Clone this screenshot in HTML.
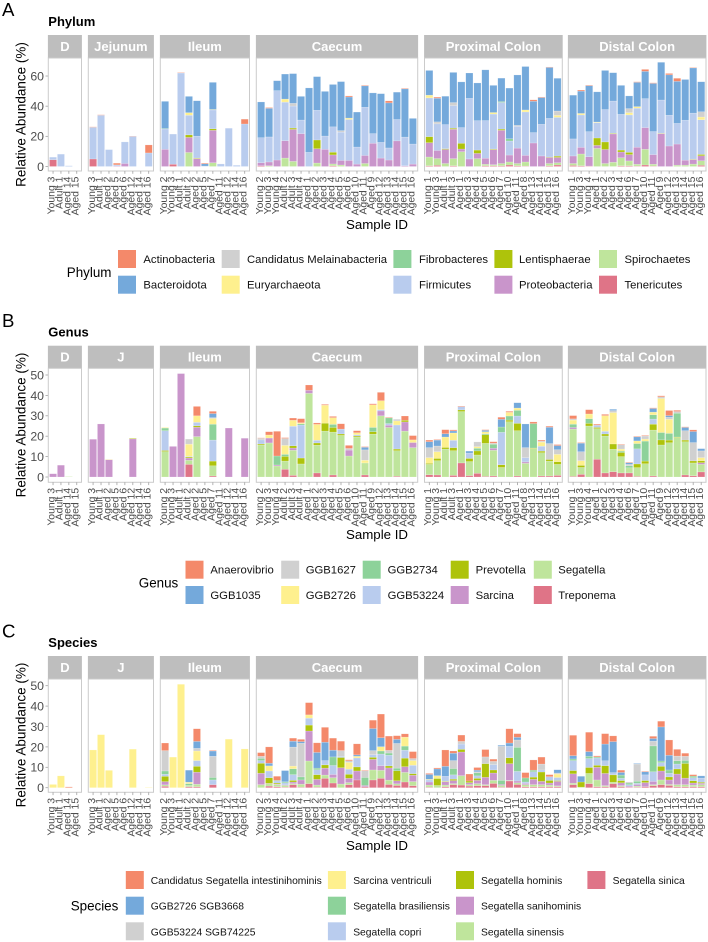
<!DOCTYPE html>
<html lang="en">
<head>
<meta charset="utf-8">
<title>Relative abundance by phylum, genus and species</title>
<style>
html,body{margin:0;padding:0;background:#fff;}
svg{display:block;font-family:"Liberation Sans",sans-serif;}
</style>
</head>
<body>
<svg id="chart" xmlns="http://www.w3.org/2000/svg" width="708" height="942" viewBox="0 0 708 942"></svg>
<script>
// ---------- categories ----------
const facetNamesPhylum = ["D","Jejunum","Ileum","Caecum","Proximal Colon","Distal Colon"];
const facetNamesOther = ["D","J","Ileum","Caecum","Proximal Colon","Distal Colon"];
const samplesD = ["Young 3","Adult 1","Aged 14","Aged 15"];
const samplesJ = ["Young 3","Adult 1","Aged 2","Aged 5","Aged 6","Aged 12","Aged 14","Aged 16"];
const samplesI = ["Young 2","Young 3","Adult 1","Adult 2","Aged 2","Aged 5","Aged 7","Aged 11","Aged 12","Aged 14","Aged 16"];
const samplesC = ["Young 2","Young 3","Young 4","Adult 2","Adult 3","Adult 4","Aged 1","Aged 2","Aged 3","Aged 4","Aged 5","Aged 6","Aged 10","Aged 11","Aged 9","Aged 12","Aged 13","Aged 14","Aged 15","Aged 16"];
const samplesP = ["Young 1","Young 3","Adult 1","Adult 3","Aged 1","Aged 3","Aged 4","Aged 5","Aged 6","Aged 7","Aged 10","Aged 11","Aged 8","Aged 13","Aged 14","Aged 15","Aged 16"];
const samplesDi = ["Young 1","Young 3","Young 4","Aged 1","Aged 2","Aged 3","Aged 4","Aged 6","Aged 7","Aged 10","Aged 11","Aged 9","Aged 12","Aged 13","Aged 14","Aged 15","Aged 16"];

// stack order is bottom to top; the legend reads the reverse
const phylumTaxa = ["Tenericutes","Spirochaetes","Proteobacteria","Lentisphaerae","Firmicutes","Fibrobacteres","Euryarchaeota","Candidatus Melainabacteria","Bacteroidota","Actinobacteria"];
const genusTaxa = ["Treponema","Segatella","Sarcina","Prevotella","GGB53224","GGB2734","GGB2726","GGB1627","GGB1035","Anaerovibrio"];
const speciesTaxa = ["Segatella sinica","Segatella sinensis","Segatella sanihominis","Segatella hominis","Segatella copri","Segatella brasiliensis","Sarcina ventriculi","GGB53224 SGB74225","GGB2726 SGB3668","Candidatus Segatella intestinihominis"];
const stackColors = ["#DF7487","#BFE59C","#C995CB","#AEC30B","#B9CCEE","#8DD29A","#FEF08E","#D0D0D0","#74A9DB","#F4896A"];

const ticksPhylum = [0,20,40,60];
const ticksOther = [0,10,20,30,40,50];

// ---------- Phylum values (one row per sample, taxa in stack order) ----------
const phylumD = [
[4.5,0,0,0,1.7,0,0,0,0,0],[0,0,0,0,8.2,0,0,0,0,0],[0,0,0,0,0.5,0,0,0,0,0],[0,0,0,0,0,0,0,0,0,0]];
const phylumJ = [
[5,0,0,0,21,0,0,0,0,0.3],[0,0,0,0,34,0,0,0,0,0.3],[0,0,0,0,11.2,0,0,0,0,0],[0,0,0.4,0,0.7,0,0,0,0,1.1],
[0,0,2,0,14.3,0,0,0,0,0],[0,0,0,0,20,0,0,0,0,0.2],[0,0,0,0,0,0,0,0,0,0],[0,0,0,0,9,0,0,0,0,5.3]];
const phylumI = [
[0,0,11.4,0,13.5,0.3,0,0,18,0],[1.5,0,0,0,20,0,0,0,0,0],[0,0,0,0,62,0,0,0,0,0.3],
[0,9.3,10,1.7,13,0,1.7,0,10.8,0],[0,0,5.2,0.4,14.5,0,0,0,23.5,0],[0,0,0,0,0.3,0,0,0,1.5,0.5],
[0,2.5,21.5,1,12.5,0,0.3,0,18,0],[0,0,0,0,1.7,0,0,0,0,0],[0,0,0,0,25.4,0,0,0,0,0],[0,0,0,0,0.8,0,0,0,0,0],[0,0,0,0,28.2,0,0,0,0,3.2]];
const phylumC = [
[0.5,0,2,0,16.6,0,0,0,23.7,0],[0,0.5,2.5,0,16.6,0,0,0,19,0.5],[0,0,4.3,0,46,0,0,0,6.6,0],
[0,5.6,11.5,0,25.6,0,2,0,16.6,0],[0,3.4,21.2,0.9,14.6,0,0,1.8,19.7,0],[0,0,21.8,0,9,0,0,0,15.7,0],
[0,0,0,0,9.4,0,0,0,42.7,0],[0,2.3,9.5,5.8,19.7,0,0,0,22.3,0],[0,0,11.4,0,8.8,0,0,0,29.6,0],
[0.5,1.2,6,1.8,16.8,0,0,0,28.1,0],[0,1,3,0,18.8,0,0,1,32.5,0],[0,0,4,0,27.2,0,0.9,0,14,0.7],
[0,0,1.6,0,11.3,0,0,0,23.2,0],[0,2,5.3,0,32,0,0,0,14.2,0.4],[0,0,15.4,0,6.4,0,0,0,27,0],
[0,0,5.6,0,10.4,0,0,0,32.3,0],[0,0,4.3,0,8,0,0,0,29.9,1.3],[0,0,17,0,14.2,0,0,0,18.1,0],
[0,0,0.5,0,19,0,0,0,32,0.4],[0,0,1.6,0,13.3,0,0,0,17,0]];
const phylumP = [
[0.5,5.8,9.5,4,25.7,0,1.8,0,16.4,0],[0.8,4.5,5.3,0,17.7,0,0,1.3,15.7,0.7],[0,2,9.3,0.5,16,0,0,0,18.8,0],
[0.5,4.7,19.5,0.7,15,0,0,2,20,0],[0,9.8,1.8,3.8,10.4,0,0,0,30.3,0],[0,0,5,0,40.2,0,0,0,16.8,0],
[0,5.2,3.5,2.2,19.5,0,0,0,25,0],[0.5,1,4,0,25,0,0,0,33.6,0],[0.5,0.7,10,0.4,23.2,0,1,0,18,0],
[0.5,1.5,22,0.8,17.7,0.6,0,0,15.5,0],[1,2,4.6,0,9.3,1.5,0,0,33.6,0],[0.5,1.5,10.2,0,14.4,0,0,0.7,33.4,0],
[0.3,2.7,4.4,0,28.8,0,1.3,0,28.8,0],[0,0,15.6,0,6.9,0,0,0,20.8,0.9],[0,0,7,0,21,0,0,0,17.7,0.4],
[0.5,1.5,4,0.3,25.6,0,0,0,33.8,0.3],[1,1.5,3.5,0.9,25.7,0,1.3,2.9,21.7,0]];
const phylumDi = [
[0.7,1.3,5,0,11.3,0,0,0,29,0],[0.5,7.8,4.4,0,21.5,0,1,0,14.8,0.7],[0.3,0,6.2,0,16.6,0,0,0,30.5,0.4],
[0,12,2,4.9,10.2,0,0.4,0,20,0],[0,2,9.3,5,21.5,0,0,0,25.9,0],[0,2.8,18.8,0.4,21.4,0,0,0,18.8,0],
[0.5,5.3,3.8,1.3,23.7,0,0,0,19.2,0],[0.5,3.2,4.2,1.5,24.8,0,1.5,2.7,8.4,0],[0.3,1.2,11.3,0,25.9,0,1,0,16.1,0.4],
[1,10.4,14.4,0,19.2,0,0,0,18.1,1.3],[0.3,1.2,6.4,0,15.3,0,0,0,31.9,0.4],[0,0,21.8,0.3,22,0,0,0,25,0],
[0,0,13.6,0,20.4,0,0,0,26.8,0.9],[0,0.9,14,0,13.7,0,0,0,27.9,2],[0,0.9,3.3,0,26.5,0,0,0,27,0],
[0,1.6,3,0.3,30.5,0,0,0,30,0.3],[0.8,3,3.3,0.9,23,0,1.8,3.5,19.9,0]];

// ---------- Genus values ----------
const genusD = [
[0,0,1.6,0,0,0,0,0,0,0],[0,0,5.8,0,0,0,0,0,0,0],[0,0.2,0,0,0,0,0,0,0,0],[0,0,0,0,0,0,0,0,0,0]];
const genusJ = [
[0,0,18.5,0,0,0,0,0,0,0],[0,0,26,0,0,0,0,0,0,0],[0,0,8.5,0,0,0,0.2,0,0,0],[0,0,0,0,0,0,0,0,0,0],
[0,0,0,0,0,0,0,0,0,0],[0,0,18.7,0.3,0,0,0,0,0,0],[0,0,0,0,0,0,0,0,0,0],[0,0,0,0,0,0,0,0,0,0]];
const genusI = [
[0,12.5,0,0.5,9.7,1.3,0.3,0,0,0],[0,0,15,0,0,0,0,0,0,0],[0,0,50.7,0,0,0,0,0,0,0],
[6.2,2,1.1,0.5,0.3,0,6,2.5,0,0],[0,19.8,4.6,0.7,1.7,0,3.2,0,0,4.6],[0,0,0,0,0,0,0,0,0,0],
[0.5,5,0,2.3,10.3,7.8,2.8,0.4,2,1.1],[0,0,0,0,0,0,0,0,0,0],[0,0,24,0,0,0,0,0,0,0],[0,0,0,0,0,0,0,0,0,0],[0,0,19,0,0,0,0,0,0,0]];
const genusC = [
[0,15.7,0,0.5,2,0,0,0.8,0,0.2],[0,16.7,2.4,0,0,0,1.5,0,0,1.6],[0,5.4,0.5,0,0,4.4,0,0,0,12.1],
[3.8,4,0,2.3,0,1,4.4,3.4,0,0.4],[0.8,12.3,1.1,1.1,9.6,0,2.9,0,0,1.1],[0,6.4,0,2.9,16.2,0.6,0.5,0,0,2],
[0,41,1.5,0,0,0,0,0,0,2.6],[2,13.6,0,1.1,1.3,0,7.8,0,0,0.7],[0,22.5,0,3.9,0,0,8.8,0,0,0.4],
[1,21,0,2.3,0,1.5,3.3,0,0,0.6],[0,20.4,0,0.7,2.4,0,0,0,0,2.6],[0,10.3,2.9,0,0,0,0,0.8,0,1.5],
[0,19.6,0,0.5,0.6,0,1,0,0,1],[1,5.9,0,0,0,0,1.3,5.1,1.3,0.3],[0,21,0,1.2,0,2.1,11.1,0,0,0.5],
[0,30,2.4,0,0.6,0,4.4,0,0,4.1],[0,24.3,1.1,0,0.8,2.8,0,0,0,0.3],[0.4,12.5,0,0.8,11.8,0,2,0.8,0,0],
[0,22.5,4.5,0.8,0,0,0,0,0,2.1],[0,14.4,2.5,0,0,0,1.3,0,0,2.1]];
const genusP = [
[1.1,5.1,0,0.5,0,0,2.8,4.9,2.9,0.8],[1,7,0,1.1,0,0,3.3,2.8,2.9,0.3],[0,13.7,0,0.8,0,0,5.1,0,1.6,2],
[0.8,12.1,0,1.5,3.6,0,3.6,0,1,0.5],[6.9,25.2,0,0.8,1.6,0,0,0,0,0.3],[0.7,6.9,0,1.5,2.6,0,0,0,1,0],
[1.8,9,0,2,0,1.3,0.8,2.3,0,0],[0.3,16.2,0,4.2,0,0.5,1,0,0.7,0.3],[0.5,12.6,1,0,0,2,0,0.5,0,0.7],
[0,4.7,0,1.3,15.9,2.6,0,0,3.8,1],[0,27.1,0,0.8,0,2,1.8,0,0,0.5],[0.5,22.2,0,3.6,3.6,2.8,1.1,0,2.6,0],
[0,6.7,0.7,0,2.1,0,0,4.9,11.6,0],[0,13.9,0,0.3,0,12,0,0,0,0.8],[0.5,11.4,0,0.8,2.4,0,2,0.5,0,0.5],
[0.5,7.3,0,0.8,0,0,0,7.8,8,0.5],[0.8,5.4,0,1.3,0,0,3.6,2.3,2,0.5]];
const genusDi = [
[0.3,23.2,0.8,0,0,1.6,2,0.6,0,1.6],[1.3,3.4,0,1,0,0,2.3,4.4,4.2,0.3],[0,25,0,1.3,0,2.3,2.3,0,0,2.1],
[8.7,15,0,0.6,1.1,0,0,0,0,0.5],[2,18.1,0,1,1.3,0,7.7,0,0,0.6],[2.6,11,0,2.6,0,0,15.4,1,0.6,0],
[2,8,0,2,0,0.7,1,2.1,0,0.3],[2,2.5,0,0,0,1,0,0.7,0.8,0.3],[0.3,4.3,0,1.8,7.4,2.6,1.3,0,2,0.3],
[0,6.5,0,1.3,0,9.8,1,1.5,0,0.3],[0.5,22.5,0,2.9,2.5,2.1,1.3,0,1.8,0.3],[0,15.7,0,2.5,0,3.6,16.7,0.8,0,0.5],
[0,16.8,0,1.3,0,3.3,6.9,1,0.8,2.5],[0,19.3,0,0.3,0,11.7,0,0.8,0,0.6],[1,16.3,0,0.8,0,0,0,4.6,1.6,0.3],
[0.6,6.3,0,1,0,0,0,9,5.4,0.8],[2.5,3.7,0.8,1,0,0,1.5,3.3,1.1,0]];

// ---------- Species values ----------
const speciesD = [
[0,0,0,0,0,0,1.6,0,0,0],[0,0,0,0,0,0,5.8,0,0,0],[0,0,0,0,0,0,0,0,0,0.4],[0,0,0,0,0,0,0,0,0,0]];
const speciesJ = [
[0,0,0,0,0,0,18.5,0,0,0],[0,0,0,0,0,0,26,0,0,0],[0,0,0,0,0,0,8.5,0,0,0],[0,0,0,0,0,0,0,0,0,0],
[0,0,0,0,0,0,0,0,0,0],[0,0,0,0,0,0,18.9,0,0,0],[0,0,0,0,0,0,0,0,0,0],[0,0,0,0,0,0,0.2,0,0,0]];
const speciesI = [
[0.7,0.7,1.6,2.6,1,1.6,0,10,0,3.7],[0,0,0,0,0,0,15,0,0,0],[0,0,0,0,0,0,50.7,0,0,0],
[0.5,0.7,0,0,0,0.8,0.7,0,5.9,0],[0.5,1.2,5.9,2.9,2.8,0,4.7,1.3,3.4,6.2],[0,0,0,0,0,0,0,0,0,0],
[1.5,0,0,0,2.3,1.2,0,10.4,2.6,0.3],[0,0,0,0,0,0,0,0,0,0],[0,0,0,0,0,0,23.8,0,0,0],[0,0,0,0,0,0,0,0,0,0],[0,0,0,0,0,0,19,0,0,0]];
const speciesC = [
[0,1.5,5.6,4.9,1.3,1.1,0,1,0,1.8],[0.8,1.1,0.2,2.8,3.3,0,2.5,0,1.3,8],[0.5,1,0.3,0.5,1,0.3,0,0,0,2],
[0.3,0.8,0.3,0,1,0.5,0,0,5.5,0],[1.5,0.5,0.8,0.8,2.8,2.9,1.3,9.3,2.9,1.5],[0.3,1.4,2.1,0,0,1.5,0,16.5,0.8,1.1],
[2,11.1,14.7,2.9,3.4,0,1.6,0,0,6],[0.3,1,2.8,2.3,2.4,0.8,0,0,7.7,4.7],[4.6,1.6,3.4,1.6,2.1,0,0,0,9,7.3],
[2.3,2.6,1.6,0,4.4,4.2,0,0,3.3,5.9],[0,1.8,8,5,0.6,0,0,2.8,0,4.6],[1.5,1,2.1,2,2.5,0,3.3,0.8,0,0.5],
[3.8,0,4.4,2,4.4,0,0.8,0,0.7,5.4],[0.5,0,0.6,0,0,3.9,0,3.3,0,0.3],[3.8,4.9,5.2,1,1.3,0,0,2,10.8,4.1],
[4.6,3.9,2.3,0,5.7,1.5,2.1,0,4.4,11.6],[1.6,2.1,6,1,5.2,1.1,0,1.3,0,7],[1.1,0.8,1.5,4.9,0,1.3,0,12.1,2,1.8],
[2.8,4.7,2.8,4.2,3.9,2,4.4,0,0,1.6],[1,2,3.1,0.8,4.1,0,2.3,1,0,3.4]];
const speciesP = [
[0.3,1,1.5,0,1,0,0.3,0,2.4,0.5],[0,1.1,0,3.4,0,0,1.4,0,3.3,0.5],[0.5,0.8,1.6,0.3,2.4,0,0,0,4.9,8],
[1.5,0.5,1.5,0.7,2.1,3.1,0,3.9,3.6,1.1],[1.3,4.6,11.6,1.3,2.6,0,0,1.3,0,3.1],[0.8,0.7,1,0.8,0,0,0,0,0,3.4],
[1,1,1.6,1,1.2,1.5,0,0.5,0.8,1.3],[1,0.5,3.6,6.7,0,0,0,3.3,0,3.6],[2.1,1.5,3.6,1.5,2.6,0,0,1.6,0,1.1],
[0.3,0.8,0.5,0,0,2,0,16.7,0.5,0],[3.3,0.3,8.2,2.9,5.6,0,0,0,1.6,7],[1.6,0.8,0.9,0,4.7,11.8,0,3.6,1.3,1.8],
[0.5,1,0.6,0,0.7,2,0,0,0,2.6],[0.5,1,2.6,1.1,2.6,0.8,0,0,0,5],[0.5,1,1.6,4.6,1,0,0,2.9,0,3.4],
[0.5,0.8,1,1.3,1.8,0,0,0,0,1],[0.5,0.4,2.2,0.4,1.5,0,1.7,0.5,1.6,0]];
const speciesDi = [
[1.5,0.7,4.6,1.6,4.9,0.8,0,0,1.6,10],[0,0.3,0,2.5,0,0,0,0,2.8,0],[2,5,0,2.9,4.4,1.1,0,0,2.3,9.5],
[0.5,3.3,6.2,1,3.6,0.5,0,0,0,0.5],[0.5,0.5,6,3.8,2.4,0,0,0,8.2,5.1],[2,0.7,0,3.6,1.1,0,0,0,15.2,2.8],
[0.5,0.5,1.4,1.1,1.1,1.6,0,0,1.3,1.1],[0.3,0,0.5,0,0.7,0.8,0,0.5,0,0],[0.3,0.5,0.8,0,0.6,1,0,8.4,0.3,0],
[0.5,0,2,1,2.8,0,0,0,1.5,0.3],[1,0.5,1.6,0,4.7,12.7,0,2.3,1.3,1.1],[1.5,2.3,4.4,2.3,1.8,0.8,0,0,16.7,2.8],
[1.1,0.5,2.2,1.5,1.8,1.6,0,0,7.2,7.5],[0.5,1,5.2,2.5,2.4,1.6,0,2.3,0,3.3],[0.5,1,3.2,7.2,0,1.5,0,2,0,1.5],
[0.5,0.8,1,1.1,1.5,0.8,0,0,0,0.7],[0.5,1,0.7,0.5,2,0,0,0,1.1,0]];

// ---------- layout (not data) ----------
const facetEdges = [[48.3,81.5],[88.3,153.5],[160.3,249.5],[256.3,417.7],[424.5,562.3],[568.3,706]];
const sampleSets = [samplesD,samplesJ,samplesI,samplesC,samplesP,samplesDi];
const GREY_TEXT = "#4D4D4D", BORDER = "#CBCBCB", STRIP = "#BEBEBE";
const svg = document.getElementById("chart");

function make(tag, attrs, text, parent) {
  const node = document.createElementNS("http://www.w3.org/2000/svg", tag);
  for (const key in attrs) node.setAttribute(key, attrs[key]);
  if (text !== undefined) node.textContent = text;
  (parent || svg).appendChild(node);
  return node;
}

function drawPanel(opt) {
  const panelGroup = make("g", {});
  
  

  const letter = make("text", {x: 2, y: opt.letterY, "font-size": 18.6, fill: "#000"}, opt.letter, panelGroup);
  
  

  const title = make("text", {x: 48.3, y: opt.titleY, "font-size": 13, "font-weight": "bold", fill: "#000"}, opt.title, panelGroup);
  
  

  const yScale = v => opt.zeroY - v * opt.pxPerUnit;

  const yTitle = make("text", {transform: "translate(25.3," + opt.yTitleY + ") rotate(-90)", "text-anchor": "middle", "font-size": 13.5, fill: "#000"}, "Relative Abundance (%)", panelGroup);
  
  

  opt.ticks.forEach(t => {
    const tickMark = make("line", {x1: 45.5, x2: 48.3, y1: yScale(t), y2: yScale(t), stroke: "#A0A0A0", "stroke-width": 0.8}, undefined, panelGroup);
    
    
    const tickLabel = make("text", {x: 44, y: yScale(t) + 4.4, "text-anchor": "end", "font-size": 12.3, fill: GREY_TEXT}, String(t), panelGroup);
    
    
  });

  facetEdges.forEach((edge, f) => {
    const left = edge[0], right = edge[1], samples = sampleSets[f], rows = opt.rows[f];
    const unit = (right - left) / (samples.length + 0.2);
    const xCenter = i => left + (0.6 + i) * unit;

    const strip = make("rect", {x: left - 0.4, y: opt.stripTop, width: right - left + 0.8, height: opt.stripBottom - opt.stripTop, fill: STRIP}, undefined, panelGroup);
    
    

    const stripText = make("text", {x: (left + right) / 2, y: (opt.stripTop + opt.stripBottom) / 2 + 4.6, "text-anchor": "middle", "font-size": 13, "font-weight": "bold", fill: "#fff"}, opt.facetNames[f], panelGroup);
    
    

    const frame = make("rect", {x: left, y: opt.stripBottom, width: right - left, height: opt.panelBottom - opt.stripBottom, fill: "#fff", stroke: BORDER, "stroke-width": 1}, undefined, panelGroup);
    
    

    samples.forEach((sample, i) => {
      const cx = xCenter(i);
      let cumulative = 0;
      opt.taxa.forEach((taxon, k) => {
        const value = rows[i][k];
        if (value > 0) {
          const top = yScale(cumulative + value);
          const bottom = yScale(cumulative);
          const segment = make("rect", {x: cx - 0.45 * unit, y: top, width: 0.9 * unit, height: bottom - top, fill: stackColors[k], stroke: "rgba(255,255,255,.35)", "stroke-width": 0.5}, undefined, panelGroup);
          
          
          const tip = make("title", {}, sample + " – " + taxon + ": " + value + "%", segment);
          
          
        }
        cumulative += value;
      });

      const xTick = make("line", {x1: cx, x2: cx, y1: opt.panelBottom, y2: opt.panelBottom + 2.8, stroke: "#A0A0A0", "stroke-width": 0.8}, undefined, panelGroup);
      
      

      const xLabel = make("text", {transform: "translate(" + (cx + 1.7) + "," + (opt.panelBottom + 5.6) + ") rotate(-90)", "text-anchor": "end", "font-size": 10.4, fill: GREY_TEXT}, sample, panelGroup);
      
      
    });
  });

  const xTitle = make("text", {x: 377, y: opt.xTitleY, "text-anchor": "middle", "font-size": 13.3, fill: "#000"}, "Sample ID", panelGroup);
  
  

  // legend: taxa run top of stack first, filled column by column
  const legendOrder = opt.taxa.map((name, k) => ({name: name, color: stackColors[k]})).reverse();
  const legendTitle = make("text", {x: opt.legend.titleX, y: opt.legend.titleY, "font-size": 13.4, fill: "#000"}, opt.title, panelGroup);
  
  

  legendOrder.forEach((entry, n) => {
    const col = Math.floor(n / opt.legend.rowTops.length);
    const row = n % opt.legend.rowTops.length;
    const swatch = make("rect", {x: opt.legend.swatchX[col], y: opt.legend.rowTops[row], width: 18, height: 18, fill: entry.color}, undefined, panelGroup);
    
    
    const label = make("text", {x: opt.legend.labelX[col], y: opt.legend.rowTops[row] + 13, "font-size": opt.legend.fontSize, fill: "#111"}, entry.name, panelGroup);
    
    
  });
}

drawPanel({
  slug: "phylum", letter: "A", letterY: 16, title: "Phylum", titleY: 26,
  taxa: phylumTaxa, facetNames: facetNamesPhylum, ticks: ticksPhylum,
  rows: [phylumD,phylumJ,phylumI,phylumC,phylumP,phylumDi],
  stripTop: 35, stripBottom: 58, panelBottom: 171, zeroY: 166.5, pxPerUnit: 1.508,
  yTitleY: 114.5, xTitleY: 229,
  legend: {titleX: 66.8, titleY: 277, fontSize: 11.3, rowTops: [250, 275.7],
    swatchX: [118, 221.7, 393.4, 494.4, 599], labelX: [143.4, 247, 419, 519, 624.5]}
});
drawPanel({
  slug: "genus", letter: "B", letterY: 327, title: "Genus", titleY: 336.7,
  taxa: genusTaxa, facetNames: facetNamesOther, ticks: ticksOther,
  rows: [genusD,genusJ,genusI,genusC,genusP,genusDi],
  stripTop: 345.7, stripBottom: 368.3, panelBottom: 482.3, zeroY: 477, pxPerUnit: 2.04,
  yTitleY: 425, xTitleY: 539,
  legend: {titleX: 138.8, titleY: 587.3, fontSize: 11.3, rowTops: [560.7, 586],
    swatchX: [185.5, 281.2, 362.7, 450.7, 533.8], labelX: [210.4, 305.7, 387.6, 475.6, 558.3]}
});
drawPanel({
  slug: "species", letter: "C", letterY: 637.5, title: "Species", titleY: 647,
  taxa: speciesTaxa, facetNames: facetNamesOther, ticks: ticksOther,
  rows: [speciesD,speciesJ,speciesI,speciesC,speciesP,speciesDi],
  stripTop: 656, stripBottom: 679, panelBottom: 792.3, zeroY: 787.7, pxPerUnit: 2.04,
  yTitleY: 735, xTitleY: 850,
  legend: {titleX: 70.7, titleY: 910.7, fontSize: 10.3, rowTops: [871, 896.7, 922.3],
    swatchX: [125.8, 327.9, 456, 587.4], labelX: [150.7, 353.2, 481, 612.6]}
});
</script>
</body>
</html>
